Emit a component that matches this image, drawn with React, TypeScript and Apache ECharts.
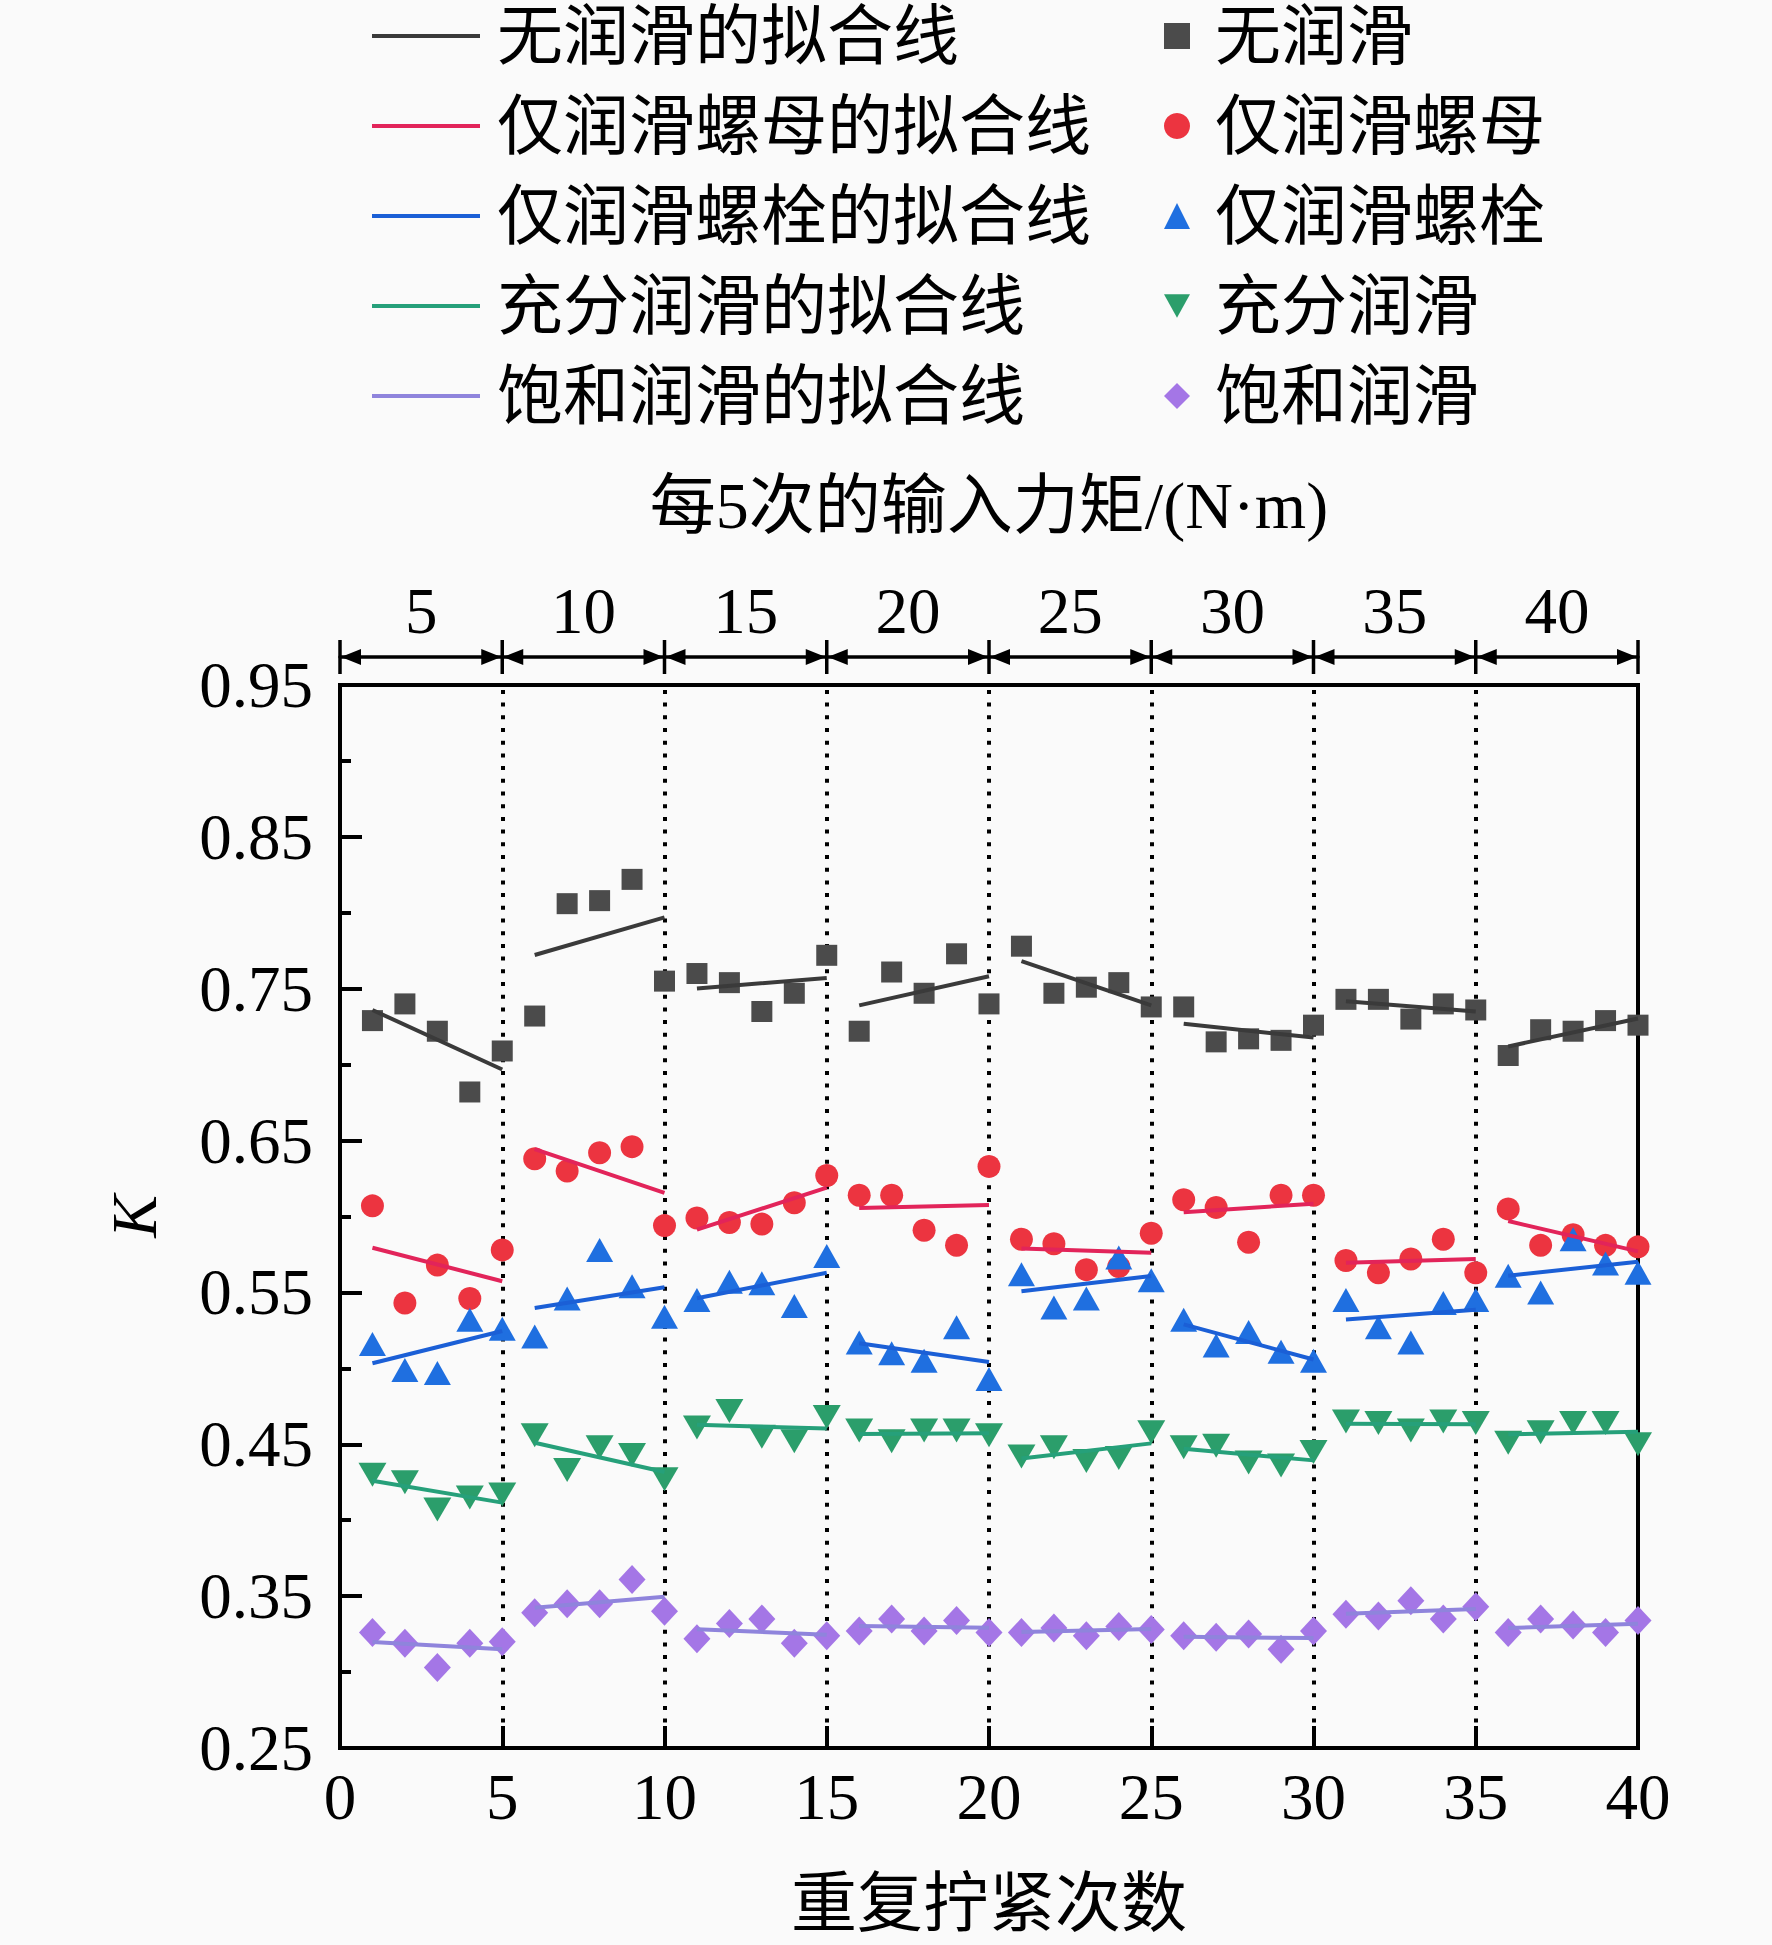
import React, { useEffect, useRef } from "react";
import * as echarts from "echarts";

// ---------- data ----------
const trials = [
  1, 2, 3, 4, 5, 6, 7, 8, 9, 10, 11, 12, 13, 14, 15, 16, 17, 18, 19, 20,
  21, 22, 23, 24, 25, 26, 27, 28, 29, 30, 31, 32, 33, 34, 35, 36, 37, 38, 39, 40,
];
const torqueLabels = ["5", "10", "15", "20", "25", "30", "35", "40"];
const groupBoundaries = [0, 5, 10, 15, 20, 25, 30, 35, 40];

const noLub = [
  0.729, 0.74, 0.722, 0.682, 0.709, 0.732, 0.806, 0.808, 0.822, 0.755,
  0.76, 0.754, 0.735, 0.747, 0.772, 0.722, 0.761, 0.747, 0.773, 0.74,
  0.778, 0.747, 0.751, 0.754, 0.738, 0.738, 0.715, 0.717, 0.716, 0.726,
  0.743, 0.743, 0.73, 0.74, 0.736, 0.706, 0.723, 0.722, 0.729, 0.726,
];
const nutLub = [
  0.607, 0.543, 0.568, 0.546, 0.578, 0.638, 0.63, 0.642, 0.646, 0.594,
  0.599, 0.596, 0.595, 0.609, 0.627, 0.614, 0.614, 0.591, 0.581, 0.633,
  0.585, 0.582, 0.565, 0.567, 0.589, 0.611, 0.606, 0.583, 0.614, 0.614,
  0.571, 0.563, 0.572, 0.585, 0.563, 0.605, 0.581, 0.588, 0.581, 0.58,
];
const boltLub = [
  0.516, 0.499, 0.497, 0.532, 0.526, 0.521, 0.546, 0.578, 0.554, 0.534,
  0.545, 0.557, 0.556, 0.541, 0.574, 0.517, 0.51, 0.505, 0.527, 0.493,
  0.562, 0.54, 0.546, 0.573, 0.558, 0.532, 0.515, 0.524, 0.511, 0.505,
  0.545, 0.527, 0.517, 0.543, 0.545, 0.561, 0.55, 0.585, 0.569, 0.563,
];
const fullLub = [
  0.43, 0.425, 0.407, 0.415, 0.417, 0.456, 0.433, 0.448, 0.443, 0.427,
  0.461, 0.472, 0.455, 0.452, 0.468, 0.459, 0.452, 0.459, 0.459, 0.456,
  0.442, 0.448, 0.439, 0.441, 0.458, 0.448, 0.449, 0.438, 0.436, 0.445,
  0.465, 0.464, 0.459, 0.465, 0.464, 0.451, 0.458, 0.464, 0.464, 0.45,
];
const satLub = [
  0.326, 0.319, 0.303, 0.319, 0.32, 0.339, 0.345, 0.345, 0.361, 0.34,
  0.322, 0.332, 0.335, 0.319, 0.324, 0.327, 0.335, 0.327, 0.334, 0.326,
  0.326, 0.329, 0.324, 0.33, 0.328, 0.324, 0.323, 0.325, 0.315, 0.327,
  0.338, 0.337, 0.347, 0.335, 0.343, 0.326, 0.335, 0.331, 0.326, 0.334,
];

const pointNames = ["无润滑", "仅润滑螺母", "仅润滑螺栓", "充分润滑", "饱和润滑"];
const fitNames = [
  "无润滑的拟合线",
  "仅润滑螺母的拟合线",
  "仅润滑螺栓的拟合线",
  "充分润滑的拟合线",
  "饱和润滑的拟合线",
];

const Y_MIN = 0.25;
const Y_MAX = 0.95;

// ---------- styles ----------
const FONT = "'Liberation Serif', 'Times New Roman', 'Noto Sans CJK SC', serif";
const BG = "#fafafa";

const seriesDefs = [
  { values: noLub, symbol: "rect", size: 21, color: "#4b4b4b", line: "#3a3a3a" },
  { values: nutLub, symbol: "circle", size: 23, color: "#ec3440", line: "#e2245a" },
  { values: boltLub, symbol: "triangle", size: [27, 24], color: "#1f6fe0", line: "#1b5fd6" },
  { values: fullLub, symbol: "path://M0,0L10,0L5,9Z", size: [28, 24], color: "#2b9e6b", line: "#26a07a" },
  { values: satLub, symbol: "diamond", size: [27, 29], color: "#a476e6", line: "#8f84dc" },
];

// least-squares linear fit within each 5-trial torque group (the "拟合线")
function fitSegments(ys: number[]) {
  const out: any[] = [];
  for (let g = 0; g < groupBoundaries.length - 1; g++) {
    const xs = trials.filter((t) => t > groupBoundaries[g] && t <= groupBoundaries[g + 1]);
    const yv = xs.map((t) => ys[trials.indexOf(t)]);
    const n = xs.length;
    const mx = xs.reduce((s, v) => s + v, 0) / n;
    const my = yv.reduce((s, v) => s + v, 0) / n;
    let sxy = 0;
    let sxx = 0;
    for (let i = 0; i < n; i++) {
      sxy += (xs[i] - mx) * (yv[i] - my);
      sxx += (xs[i] - mx) * (xs[i] - mx);
    }
    const b = sxy / sxx;
    const a = my - b * mx;
    out.push([xs[0], a + b * xs[0]], [xs[n - 1], a + b * xs[n - 1]], [xs[n - 1], "-"]);
  }
  return out;
}

const TOP_OFFSET = 28;

function buildOption(): any {
  const scatterSeries = seriesDefs.map((d, i) => ({
    type: "scatter",
    name: pointNames[i],
    data: trials.map((t, k) => [t, d.values[k]]),
    symbol: d.symbol,
    symbolSize: d.size,
    itemStyle: { color: d.color, opacity: 1 },
    z: 2,
    silent: true,
    ...(i === 0
      ? {
          markLine: {
            silent: true,
            symbol: ["none", "none"],
            label: { show: false },
            lineStyle: { color: "#000", width: 4, type: [4, 8.7], opacity: 1 },
            emphasis: { disabled: true },
            data: groupBoundaries.slice(1, -1).map((v) => ({ xAxis: v })),
            z: 1,
          },
        }
      : {}),
  }));

  const fitSeries = seriesDefs.map((d, i) => ({
    type: "line",
    name: fitNames[i],
    data: fitSegments(d.values),
    symbol: "none",
    showSymbol: false,
    connectNulls: false,
    lineStyle: { color: d.line, width: 4 },
    itemStyle: { color: d.line },
    z: 3,
    silent: true,
  }));

  const bandSeries = {
    type: "custom",
    name: "torqueBands",
    silent: true,
    clip: false,
    z: 5,
    data: groupBoundaries.map((v) => [v, Y_MAX]),
    encode: { x: 0, y: 1 },
    renderItem: (params: any, api: any) => {
      const idx = params.dataIndex;
      const pt = api.coord([api.value(0), api.value(1)]);
      const yL = params.coordSys.y - TOP_OFFSET;
      const x = pt[0];
      const children: any[] = [
        {
          type: "line",
          shape: { x1: x, y1: yL - 17, x2: x, y2: yL + 17 },
          style: { stroke: "#000", lineWidth: 3.5 },
        },
      ];
      if (idx > 0) {
        children.push({
          type: "polygon",
          shape: { points: [[x - 1, yL], [x - 21, yL - 8], [x - 21, yL + 8]] },
          style: { fill: "#000" },
        });
      }
      if (idx < groupBoundaries.length - 1) {
        children.push({
          type: "polygon",
          shape: { points: [[x + 1, yL], [x + 21, yL - 8], [x + 21, yL + 8]] },
          style: { fill: "#000" },
        });
      }
      return { type: "group", children };
    },
  };

  const legendText = (padLeft: number) => ({
    fontSize: 66,
    lineHeight: 66,
    fontFamily: FONT,
    color: "#000",
    padding: [0, 0, 0, padLeft],
  });

  return {
    animation: false,
    backgroundColor: BG,
    legend: [
      {
        data: fitNames,
        orient: "vertical",
        left: 372,
        top: 3,
        padding: 0,
        icon: "rect",
        itemWidth: 108,
        itemHeight: 4,
        itemGap: 24,
        selectedMode: false,
        textStyle: legendText(12),
      },
      {
        data: pointNames,
        orient: "vertical",
        left: 1164,
        top: 3,
        padding: 0,
        itemWidth: 26,
        itemHeight: 26,
        itemGap: 24,
        selectedMode: false,
        textStyle: legendText(20),
      },
    ],
    grid: {
      left: 340,
      top: 685,
      width: 1298,
      height: 1063,
      show: true,
      borderColor: "#000",
      borderWidth: 4,
      backgroundColor: "transparent",
      containLabel: false,
    },
    xAxis: [
      {
        type: "value",
        min: 0,
        max: 40,
        interval: 5,
        position: "bottom",
        axisLine: { show: true, onZero: false, lineStyle: { color: "#000", width: 4 } },
        axisTick: { show: true, inside: true, length: 22, lineStyle: { color: "#000", width: 4 } },
        axisLabel: { fontSize: 65, fontFamily: FONT, color: "#000", margin: 16 },
        splitLine: { show: false },
        name: "重复拧紧次数",
        nameLocation: "middle",
        nameGap: 122,
        nameTextStyle: { fontSize: 66, fontFamily: FONT, color: "#000" },
      },
      {
        type: "category",
        data: torqueLabels,
        position: "top",
        offset: TOP_OFFSET,
        boundaryGap: true,
        axisLine: { show: true, lineStyle: { color: "#000", width: 3.5 } },
        axisTick: { show: false },
        axisLabel: { fontSize: 65, fontFamily: FONT, color: "#000", margin: 14 },
        splitLine: { show: false },
        name: "每5次的输入力矩/(N·m)",
        nameLocation: "middle",
        nameGap: 119,
        nameTextStyle: { fontSize: 66, fontFamily: FONT, color: "#000" },
      },
    ],
    yAxis: {
      type: "value",
      min: Y_MIN,
      max: Y_MAX,
      interval: 0.1,
      axisLine: { show: true, onZero: false, lineStyle: { color: "#000", width: 4 } },
      axisTick: { show: true, inside: true, length: 22, lineStyle: { color: "#000", width: 4 } },
      minorTick: { show: true, splitNumber: 2, length: 11, lineStyle: { color: "#000", width: 4 } },
      axisLabel: {
        fontSize: 65,
        fontFamily: FONT,
        color: "#000",
        margin: 27,
        formatter: (v: number) => v.toFixed(2),
      },
      splitLine: { show: false },
      minorSplitLine: { show: false },
      name: "K",
      nameLocation: "middle",
      nameGap: 174,
      nameTextStyle: { fontSize: 64, fontFamily: FONT, fontStyle: "italic", color: "#000" },
    },
    series: [...scatterSeries, ...fitSeries, bandSeries],
  };
}

export default function App() {
  const ref = useRef<HTMLDivElement>(null);
  useEffect(() => {
    document.body.style.margin = "0";
    const chart = echarts.init(ref.current as HTMLDivElement, null, { renderer: "svg" });
    chart.setOption(buildOption());
    return () => chart.dispose();
  }, []);
  return <div ref={ref} style={{ width: 1772, height: 1945, background: BG }} />;
}
